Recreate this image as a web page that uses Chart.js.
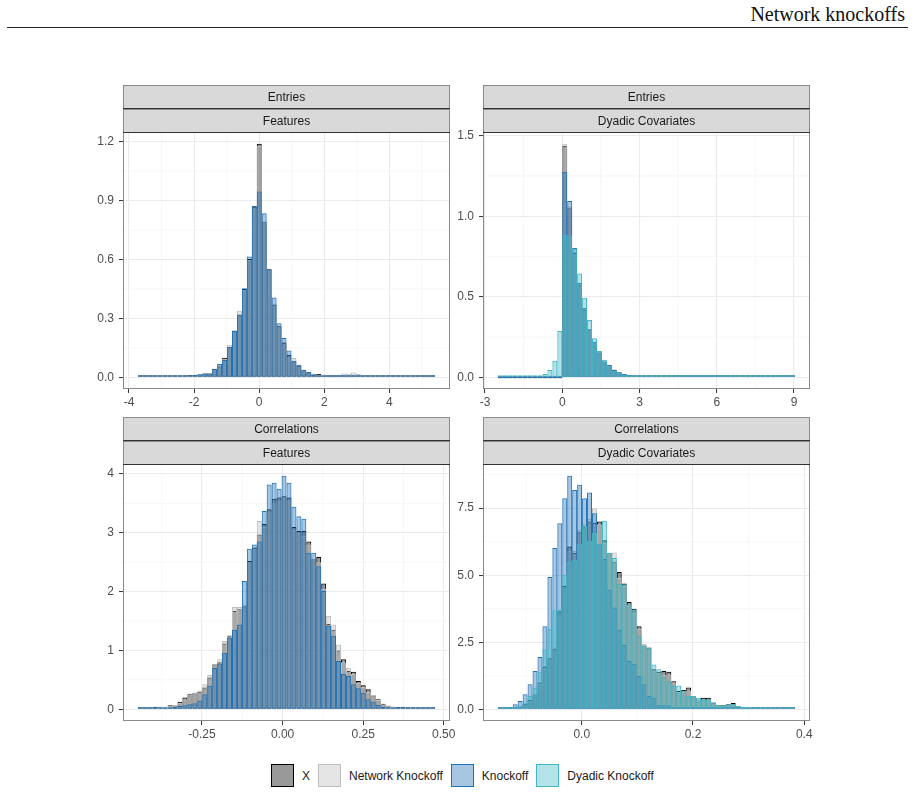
<!DOCTYPE html>
<html>
<head>
<meta charset="utf-8">
<script src="https://cdn.jsdelivr.net/npm/chart.js@4.4.0/dist/chart.umd.min.js"></script>
<style>
  body { margin: 0; width: 915px; height: 794px; background: #fff; position: relative; overflow: hidden;
         font-family: "Liberation Sans", Arial, sans-serif; }
  #runhead { position: absolute; right: 10px; top: 4px; font: 20px/20px "Liberation Serif", "DejaVu Serif", serif; color: #111; }
  #rule { position: absolute; left: 7px; top: 27px; width: 901px; height: 1px; background: #222; }
  canvas.panel { position: absolute; }
  #legend { position: absolute; left: 271px; top: 764px; display: flex; align-items: center; font-size: 12px; color: #1a1a1a; }
  .item { display: flex; align-items: center; margin-right: 8px; }
  .key { width: 23px; height: 23px; box-sizing: border-box; border: 1.5px solid; margin-right: 8px; }
</style>
</head>
<body>
<div id="runhead">Network knockoffs</div>
<div id="rule"></div>
<canvas id="entFeat" class="panel" width="372" height="326" style="left:83px;top:84px"></canvas>
<canvas id="entDyad" class="panel" width="372" height="326" style="left:443px;top:84px"></canvas>
<canvas id="corFeat" class="panel" width="372" height="326" style="left:83px;top:416px"></canvas>
<canvas id="corDyad" class="panel" width="372" height="326" style="left:443px;top:416px"></canvas>
<div id="legend"></div>
<script>
// series shown in the legend
const seriesNames = ['X', 'Network Knockoff', 'Knockoff', 'Dyadic Knockoff'];
const fillColors = ['rgba(0,0,0,0.4)', 'rgba(190,190,190,0.4)', 'rgba(33,113,181,0.4)', 'rgba(65,182,196,0.4)'];
const lineColors = ['#000000', '#bebebe', '#2171b5', '#41b6c4'];

// Entries / Features : 60 bins, density
const entFeatStart = -3.727, entFeatWidth = 0.1522;
const entFeatX = [
  0.003, 0.002, 0.002, 0.003, 0.003, 0.004, 0.004, 0.005, 0.007, 0.009,
  0.012, 0.011, 0.014, 0.019, 0.022, 0.042, 0.056, 0.100, 0.154, 0.235,
  0.320, 0.450, 0.603, 0.870, 1.190, 0.793, 0.550, 0.370, 0.260, 0.175,
  0.115, 0.080, 0.058, 0.036, 0.024, 0.015, 0.017, 0.010, 0.008, 0.006,
  0.005, 0.004, 0.004, 0.003, 0.003, 0.002, 0.002, 0.002, 0.002, 0.001,
  0.001, 0.001, 0.001, 0.001, 0.001, 0.001, 0.001, 0.001, 0.001, 0.001];
const entFeatNetwork = [
  0.002, 0.002, 0.002, 0.002, 0.003, 0.003, 0.004, 0.005, 0.006, 0.008,
  0.010, 0.011, 0.013, 0.018, 0.022, 0.040, 0.060, 0.095, 0.166, 0.230,
  0.339, 0.445, 0.598, 0.860, 1.180, 0.790, 0.545, 0.375, 0.255, 0.180,
  0.100, 0.098, 0.056, 0.035, 0.025, 0.016, 0.014, 0.014, 0.010, 0.008,
  0.010, 0.020, 0.019, 0.025, 0.017, 0.010, 0.005, 0.003, 0.002, 0.002,
  0.001, 0.001, 0.001, 0.001, 0.001, 0.001, 0.001, 0.001, 0.001, 0.001];
const entFeatKnockoff = [
  0.002, 0.002, 0.002, 0.002, 0.003, 0.003, 0.004, 0.005, 0.006, 0.008,
  0.010, 0.012, 0.015, 0.020, 0.020, 0.044, 0.068, 0.088, 0.154, 0.239,
  0.319, 0.454, 0.615, 0.873, 0.946, 0.836, 0.551, 0.407, 0.276, 0.200,
  0.136, 0.085, 0.064, 0.039, 0.027, 0.014, 0.010, 0.006, 0.005, 0.004,
  0.003, 0.003, 0.002, 0.002, 0.002, 0.002, 0.001, 0.001, 0.001, 0.001,
  0.001, 0.001, 0.001, 0.001, 0.001, 0.001, 0.001, 0.001, 0.001, 0.001];

// Entries / Dyadic Covariates
const entDyadStart = -2.5, entDyadWidth = 0.1924;
const entDyadX = [
  0, 0, 0, 0, 0, 0, 0, 0, 0, 0, 0, 0, 0,
  1.436, 1.050, 0.772, 0.576, 0.420, 0.298, 0.216, 0.150, 0.093, 0.068,
  0.045, 0.030, 0.020, 0.014, 0.010, 0.007, 0.005, 0.004, 0.003, 0.002,
  0.002, 0.001, 0.001, 0.001, 0.001, 0.001, 0.001, 0.001, 0.001, 0.001,
  0.0005, 0.0005, 0.0005, 0.0005, 0.0005, 0.0005, 0.0005, 0.0005, 0.0005,
  0.0005, 0.0005, 0.0005, 0.0005, 0.0005, 0.0005, 0.0005, 0.0005];
const entDyadNetwork = [
  0, 0, 0, 0, 0, 0, 0, 0, 0, 0, 0, 0, 0,
  1.450, 1.060, 0.780, 0.580, 0.425, 0.300, 0.215, 0.150, 0.095, 0.070,
  0.048, 0.032, 0.021, 0.014, 0.010, 0.007, 0.005, 0.004, 0.003, 0.002,
  0.002, 0.001, 0.001, 0.001, 0.001, 0.001, 0.001, 0.001, 0.001, 0.001,
  0.0005, 0.0005, 0.0005, 0.0005, 0.0005, 0.0005, 0.0005, 0.0005, 0.0005,
  0.0005, 0.0005, 0.0005, 0.0005, 0.0005, 0.0005, 0.0005, 0.0005];
const entDyadKnockoff = [
  0, 0, 0, 0, 0, 0, 0, 0, 0, 0, 0, 0, 0,
  1.276, 1.095, 0.802, 0.586, 0.430, 0.298, 0.220, 0.155, 0.100, 0.076,
  0.047, 0.031, 0.020, 0.014, 0.010, 0.007, 0.005, 0.004, 0.003, 0.002,
  0.002, 0.001, 0.001, 0.001, 0.001, 0.001, 0.001, 0.001, 0.001, 0.001,
  0.0005, 0.0005, 0.0005, 0.0005, 0.0005, 0.0005, 0.0005, 0.0005, 0.0005,
  0.0005, 0.0005, 0.0005, 0.0005, 0.0005, 0.0005, 0.0005, 0.0005];
const entDyadDyadic = [
  0.001, 0.001, 0.002, 0.002, 0.003, 0.004, 0.006, 0.008, 0.012, 0.020,
  0.045, 0.103, 0.288,
  0.885, 0.880, 0.800, 0.644, 0.494, 0.356, 0.243, 0.163, 0.109, 0.072,
  0.040, 0.028, 0.018, 0.012, 0.008, 0.006, 0.004, 0.003, 0.002, 0.002,
  0.001, 0.001, 0.001, 0.001, 0.001, 0.001, 0.001, 0.001, 0.001, 0.001,
  0.0005, 0.0005, 0.0005, 0.0005, 0.0005, 0.0005, 0.0005, 0.0005, 0.0005,
  0.0005, 0.0005, 0.0005, 0.0005, 0.0005, 0.0005, 0.0005, 0.0005];

// Correlations / Features
const corFeatStart = -0.449, corFeatWidth = 0.01537;
const corFeatX = [
  0.010, 0.010, 0.020, 0.045, 0.045, 0.030, 0.070, 0.070, 0.130, 0.200,
  0.260, 0.280, 0.300, 0.370, 0.540, 0.765, 0.800, 1.120, 1.250, 1.670,
  1.700, 1.750, 2.520, 2.750, 2.970, 3.150, 3.400, 3.580, 3.600, 3.620,
  3.600, 3.100, 3.030, 3.030, 2.850, 2.550, 2.590, 2.140, 1.450, 1.350,
  1.000, 0.850, 0.650, 0.640, 0.480, 0.410, 0.340, 0.240, 0.170, 0.090,
  0.060, 0.045, 0.040, 0.045, 0.028, 0.020, 0.017, 0.012, 0.010, 0.008];
const corFeatNetwork = [
  0.005, 0.010, 0.015, 0.030, 0.040, 0.040, 0.060, 0.075, 0.110, 0.170,
  0.270, 0.280, 0.320, 0.425, 0.583, 0.776, 0.850, 1.160, 1.260, 1.740,
  1.740, 1.780, 2.500, 2.720, 3.200, 3.100, 3.350, 3.500, 3.550, 3.600,
  3.550, 3.050, 3.000, 2.950, 2.800, 2.550, 2.500, 2.050, 1.585, 1.440,
  1.100, 0.800, 0.700, 0.600, 0.450, 0.380, 0.300, 0.245, 0.160, 0.100,
  0.060, 0.040, 0.035, 0.030, 0.020, 0.015, 0.012, 0.010, 0.008, 0.006];
const corFeatKnockoff = [
  0.010, 0.010, 0.015, 0.015, 0.020, 0.020, 0.030, 0.040, 0.057, 0.070,
  0.085, 0.105, 0.150, 0.255, 0.400, 0.700, 0.780, 0.960, 1.220, 1.350,
  1.440, 2.180, 2.730, 2.800, 2.850, 3.370, 3.820, 3.850, 3.750, 3.970,
  3.850, 3.440, 3.280, 3.240, 2.660, 2.660, 2.430, 2.010, 1.420, 1.250,
  0.820, 0.600, 0.566, 0.425, 0.357, 0.283, 0.170, 0.130, 0.075, 0.040,
  0.030, 0.020, 0.015, 0.010, 0.010, 0.008, 0.006, 0.005, 0.004, 0.004];

// Correlations / Dyadic Covariates
const corDyadStart = -0.1509, corDyadWidth = 0.00891;
const corDyadX = [
  0.020, 0.020, 0.040, 0.070, 0.120, 0.200, 0.350, 0.550, 1.000, 1.600,
  1.900, 2.250, 3.660, 4.600, 6.070, 5.830, 6.600, 6.820, 7.000, 6.950,
  7.000, 6.300, 5.830, 5.500, 5.120, 4.690, 4.000, 3.750, 3.100, 2.420,
  2.300, 1.490, 1.400, 1.430, 1.400, 1.050, 0.680, 0.720, 0.810, 0.480,
  0.370, 0.430, 0.430, 0.250, 0.160, 0.160, 0.190, 0.240, 0.120, 0.090,
  0.080, 0.060, 0.050, 0.040, 0.030, 0.030, 0.020, 0.020, 0.020, 0.020];
const corDyadNetwork = [
  0.015, 0.020, 0.035, 0.060, 0.110, 0.190, 0.330, 0.520, 0.950, 1.500,
  1.850, 2.300, 3.500, 4.500, 5.900, 5.900, 6.700, 6.900, 7.100, 7.500,
  6.900, 6.200, 5.850, 5.850, 4.900, 4.600, 3.900, 3.600, 3.000, 2.400,
  2.200, 1.450, 1.350, 1.300, 1.300, 1.000, 0.650, 0.650, 0.700, 0.450,
  0.350, 0.380, 0.380, 0.230, 0.150, 0.150, 0.170, 0.200, 0.110, 0.080,
  0.070, 0.050, 0.040, 0.035, 0.030, 0.025, 0.020, 0.020, 0.015, 0.015];
const corDyadKnockoff = [
  0.030, 0.030, 0.087, 0.190, 0.310, 0.560, 0.930, 1.430, 1.950, 3.100,
  4.930, 6.010, 6.940, 7.870, 8.710, 8.180, 8.370, 7.870, 8.080, 7.310,
  6.170, 5.600, 4.460, 3.800, 2.970, 2.400, 1.800, 1.700, 1.240, 0.930,
  0.500, 0.430, 0.150, 0.150, 0.140, 0.060, 0.050, 0.040, 0.030, 0.020,
  0.020, 0.015, 0.012, 0.010, 0.010, 0.008, 0.008, 0.006, 0.006, 0.005,
  0.005, 0.004, 0.004, 0.003, 0.003, 0.003, 0.002, 0.002, 0.002, 0.002];
const corDyadDyadic = [
  0.010, 0.020, 0.040, 0.070, 0.120, 0.250, 0.500, 0.800, 1.400, 2.230,
  3.000, 3.690, 3.700, 5.020, 5.500, 5.580, 6.170, 6.840, 6.280, 6.570,
  6.170, 7.030, 5.830, 5.640, 4.670, 4.650, 3.900, 3.720, 2.730, 2.360,
  2.290, 1.670, 1.490, 1.200, 1.050, 0.870, 0.890, 0.700, 0.500, 0.500,
  0.430, 0.350, 0.380, 0.250, 0.160, 0.150, 0.180, 0.200, 0.120, 0.100,
  0.087, 0.060, 0.050, 0.040, 0.040, 0.030, 0.030, 0.030, 0.030, 0.030];

// axis breaks and labels
const entFeatXTicks = [-4, -2, 0, 2, 4], entFeatXLabels = ['-4', '-2', '0', '2', '4'];
const entFeatYTicks = [0, 0.3, 0.6, 0.9, 1.2], entFeatYLabels = ['0.0', '0.3', '0.6', '0.9', '1.2'];
const entDyadXTicks = [-3, 0, 3, 6, 9], entDyadXLabels = ['-3', '0', '3', '6', '9'];
const entDyadYTicks = [0, 0.5, 1, 1.5], entDyadYLabels = ['0.0', '0.5', '1.0', '1.5'];
const corFeatXTicks = [-0.25, 0, 0.25, 0.5], corFeatXLabels = ['-0.25', '0.00', '0.25', '0.50'];
const corFeatYTicks = [0, 1, 2, 3, 4], corFeatYLabels = ['0', '1', '2', '3', '4'];
const corDyadXTicks = [0, 0.2, 0.4], corDyadXLabels = ['0.0', '0.2', '0.4'];
const corDyadYTicks = [0, 2.5, 5, 7.5], corDyadYLabels = ['0.0', '2.5', '5.0', '7.5'];

Chart.defaults.font.family = '"Liberation Sans", Arial, sans-serif';
Chart.defaults.font.size = 12;

// minor grid lines half way between the breaks
function minorBreaks(scale) {
  const t = scale.ticks.map(k => k.value);
  const step = t[1] - t[0];
  const out = [];
  for (let v = t[0] - step / 2; v <= scale.max; v += step) {
    if (v >= scale.min) out.push(v);
  }
  return out;
}

// strips, minor grid and panel border
const facetPlugin = {
  id: 'facet',
  beforeDatasetsDraw(chart) {
    const { ctx, chartArea: a, scales } = chart;
    ctx.save();
    ctx.strokeStyle = '#f3f3f3';
    ctx.lineWidth = 0.7;
    minorBreaks(scales.x).forEach(v => {
      const p = scales.x.getPixelForValue(v);
      ctx.beginPath(); ctx.moveTo(p, a.top); ctx.lineTo(p, a.bottom); ctx.stroke();
    });
    minorBreaks(scales.y).forEach(v => {
      const p = scales.y.getPixelForValue(v);
      ctx.beginPath(); ctx.moveTo(a.left, p); ctx.lineTo(a.right, p); ctx.stroke();
    });
    ctx.restore();
  },
  afterDraw(chart, args, opts) {
    const { ctx, chartArea: a } = chart;
    ctx.save();
    ctx.lineWidth = 1;
    ctx.strokeStyle = '#8a8a8a';
    ctx.strokeRect(a.left + 0.5, a.top + 0.5, a.right - a.left - 1, a.bottom - a.top - 1);
    const h = 24;
    opts.strips.forEach((txt, i) => {
      const y0 = a.top - (opts.strips.length - i) * h;
      ctx.fillStyle = '#d9d9d9';
      ctx.fillRect(a.left, y0 + 1, a.right - a.left, h - 1);
      ctx.strokeStyle = '#8a8a8a';
      ctx.strokeRect(a.left + 0.5, y0 + 1.5, a.right - a.left - 1, h - 1);
      ctx.strokeStyle = '#333333';
      ctx.beginPath(); ctx.moveTo(a.left, y0 + h + 0.5); ctx.lineTo(a.right, y0 + h + 0.5); ctx.stroke();
      ctx.fillStyle = '#1a1a1a';
      ctx.font = '12px "Liberation Sans", Arial, sans-serif';
      ctx.textAlign = 'center';
      ctx.textBaseline = 'middle';
      ctx.fillText(txt, (a.left + a.right) / 2, y0 + h / 2 + 1.5);
    });
    ctx.restore();
  }
};

function axisOpts(ticks, labels, min, max, isX) {
  return {
    type: 'linear', min: min, max: max, bounds: 'data', offset: false,
    grid: { color: '#ebebeb', lineWidth: 1.1, offset: false, drawTicks: true, tickLength: 4, tickColor: '#333333', tickWidth: 1 },
    border: { display: false },
    ticks: { color: '#4d4d4d', padding: isX ? 2 : 5, autoSkip: false, maxRotation: 0,
             callback: (v, i) => labels[i] },
    afterBuildTicks: axis => { axis.ticks = ticks.map(v => ({ value: v })); },
    afterFit: axis => {
      if (isX) { axis.height = 21; axis.paddingLeft = 0; axis.paddingRight = 0; }
      else { axis.width = 40; axis.paddingTop = 0; axis.paddingBottom = 0; }
    }
  };
}

function makePanel(id, p) {
  const centers = p.series[0].map((_, i) => p.start + p.width * (i + 0.5));
  const datasets = p.series.map((vals, k) => {
    const s = p.which[k];
    return {
      label: seriesNames[s],
      data: vals.map((v, i) => ({ x: centers[i], y: v })),
      backgroundColor: fillColors[s],
      borderColor: lineColors[s],
      borderWidth: 1,
      borderSkipped: false,
      minBarLength: 2,
      grouped: false,
      barPercentage: 1,
      categoryPercentage: 1,
      inflateAmount: 0,
      order: 4 - s
    };
  });
  new Chart(document.getElementById(id), {
    type: 'bar',
    data: { datasets: datasets },
    options: {
      responsive: false,
      animation: false,
      devicePixelRatio: 1,
      layout: { padding: { top: 48, right: 5, left: 0, bottom: 0 } },
      plugins: { legend: { display: false }, tooltip: { enabled: false }, facet: { strips: p.strips } },
      scales: {
        x: axisOpts(p.xTicks, p.xLabels, p.xMin, p.xMax, true),
        y: axisOpts(p.yTicks, p.yLabels, p.yMin, p.yMax, false)
      }
    },
    plugins: [facetPlugin]
  });
}

makePanel('entFeat', {
  strips: ['Entries', 'Features'], start: entFeatStart, width: entFeatWidth,
  series: [entFeatX, entFeatNetwork, entFeatKnockoff], which: [0, 1, 2],
  xTicks: entFeatXTicks, xLabels: entFeatXLabels, xMin: -4.184, xMax: 5.862,
  yTicks: entFeatYTicks, yLabels: entFeatYLabels, yMin: -0.0595, yMax: 1.2495
});
makePanel('entDyad', {
  strips: ['Entries', 'Dyadic Covariates'], start: entDyadStart, width: entDyadWidth,
  series: [entDyadX, entDyadNetwork, entDyadKnockoff, entDyadDyadic], which: [0, 1, 2, 3],
  xTicks: entDyadXTicks, xLabels: entDyadXLabels, xMin: -3.077, xMax: 9.621,
  yTicks: entDyadYTicks, yLabels: entDyadYLabels, yMin: -0.0725, yMax: 1.5225
});
makePanel('corFeat', {
  strips: ['Correlations', 'Features'], start: corFeatStart, width: corFeatWidth,
  series: [corFeatX, corFeatNetwork, corFeatKnockoff], which: [0, 1, 2],
  xTicks: corFeatXTicks, xLabels: corFeatXLabels, xMin: -0.4951, xMax: 0.5193,
  yTicks: corFeatYTicks, yLabels: corFeatYLabels, yMin: -0.1985, yMax: 4.1685
});
makePanel('corDyad', {
  strips: ['Correlations', 'Dyadic Covariates'], start: corDyadStart, width: corDyadWidth,
  series: [corDyadX, corDyadNetwork, corDyadKnockoff, corDyadDyadic], which: [0, 1, 2, 3],
  xTicks: corDyadXTicks, xLabels: corDyadXLabels, xMin: -0.1776, xMax: 0.4104,
  yTicks: corDyadYTicks, yLabels: corDyadYLabels, yMin: -0.4355, yMax: 9.1455
});

// shared legend
const legend = document.getElementById('legend');
seriesNames.forEach((name, s) => {
  const item = document.createElement('div');
  item.className = 'item';
  const key = document.createElement('div');
  key.className = 'key';
  key.style.background = fillColors[s];
  key.style.borderColor = lineColors[s];
  const label = document.createElement('span');
  label.textContent = name;
  item.appendChild(key);
  item.appendChild(label);
  legend.appendChild(item);
});
</script>
</body>
</html>
